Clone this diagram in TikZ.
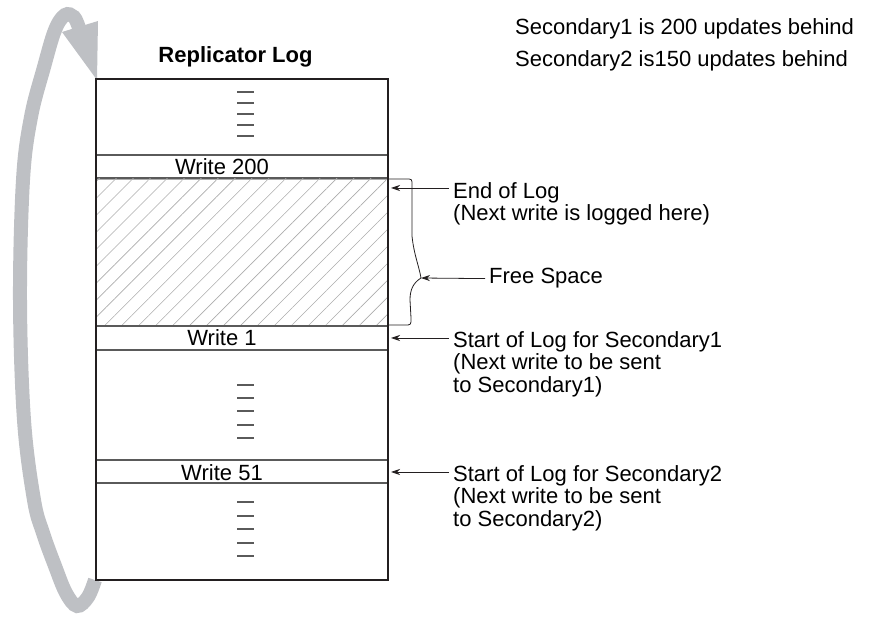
\documentclass[tikz,border=0pt]{standalone}
\usepackage{fontspec}
\setmainfont{Liberation Sans}
\usetikzlibrary{positioning, arrows.meta, patterns.meta}

\definecolor{loopgray}{RGB}{190,192,196}
\definecolor{hatchgray}{RGB}{172,172,172}
\definecolor{rulegray}{RGB}{90,90,90}
\definecolor{ink}{RGB}{35,31,32}

\begin{document}
\begin{tikzpicture}[x=1pt, y=-1pt,
  entry/.style={font=\fontsize{22}{22.5}\selectfont, inner sep=0pt, anchor=base},
  callout/.style={font=\fontsize{22}{22.5}\selectfont, align=left, inner xsep=4pt, inner ysep=0pt, anchor=north west},
  note/.style={font=\fontsize{22}{22.5}\selectfont, inner sep=0pt, anchor=base west},
  arr/.style={-{Stealth[length=9pt,width=6pt]}, line width=0.8pt, ink},
  tick/.style={line width=1.1pt, rulegray},
  rowline/.style={line width=1.1pt, rulegray}]

\useasboundingbox (0,0) rectangle (871,617);

% wrap-around arrow
\draw[line width=14pt, loopgray] plot[smooth, tension=0.6] coordinates {
  (95,580) (88,597) (77,606) (66,593) (55,566) (43,533) (34,500) (24,420)
  (20,300) (23,180) (31,117) (44,67) (55,30) (65,15) (74,17) (79,28)};
\fill[loopgray] (62,32) -- (98,21) -- (97,80) -- cycle;

% log rows
\draw[rowline] (96,155) rectangle (388,178);
\draw[line width=0.8pt, hatchgray, pattern={Lines[angle=45,distance=12pt,line width=0.6pt]}, pattern color=hatchgray]
  (96,179) rectangle (388,325);
\draw[rowline] (96,326) rectangle (388,350);
\draw[rowline] (96,460) rectangle (388,483);
\draw[line width=2pt, ink] (96,79) rectangle (388,580);

\foreach \y in {92,103,114,125,136,385,398,411,425,438,502,516,529,543,556}
  \draw[tick] (237,\y) -- (254,\y);

\node[entry, font=\fontsize{22}{22.5}\selectfont\bfseries] (title) at (235.5,63) {Replicator Log};
\node[entry] (w200) at (222,175) {Write 200};
\node[entry] (w1) at (222,346) {Write 1};
\node[entry] (w51) at (222,481) {Write 51};

% free space brace
\coordinate (braceTop) at (388,179);
\coordinate (braceBot) at (388,325);
\coordinate (braceTip) at (421,278);
\draw[line width=0.8pt, ink] (braceTop) -- (406,179) .. controls (412,179) .. (412,185)
  -- (412,236) .. controls (414,255) and (419,266) .. (braceTip)
  .. controls (413,283) and (410,290) .. (410,300) -- (411,318)
  .. controls (411,325) .. (405,325) -- (braceBot);

% labels
\node[note] (sec1Note) at (515,35) {Secondary1 is 200 updates behind};
\node[note, below=11pt of sec1Note.south west, anchor=north west] (sec2Note) {Secondary2 is150 updates behind};

\node[callout] (eolLbl) at (449,182) {End of Log\\(Next write is logged here)};
\node[entry, anchor=base west, inner xsep=4pt] (freeLbl) at (485,284) {Free Space};
\node[callout] (s1Lbl) at (449,331) {Start of Log for Secondary1\\(Next write to be sent\\to Secondary1)};
\node[callout] (s2Lbl) at (449,465) {Start of Log for Secondary2\\(Next write to be sent\\to Secondary2)};

\coordinate (eolHead) at (391,188);
\coordinate (s1Head) at (391,338);
\coordinate (s2Head) at (391,472);

\draw[arr] (eolLbl.west |- eolHead) -- (eolHead);
\draw[arr] (freeLbl.west) -- (braceTip);
\draw[arr] (s1Lbl.west |- s1Head) -- (s1Head);
\draw[arr] (s2Lbl.west |- s2Head) -- (s2Head);

\end{tikzpicture}
\end{document}
